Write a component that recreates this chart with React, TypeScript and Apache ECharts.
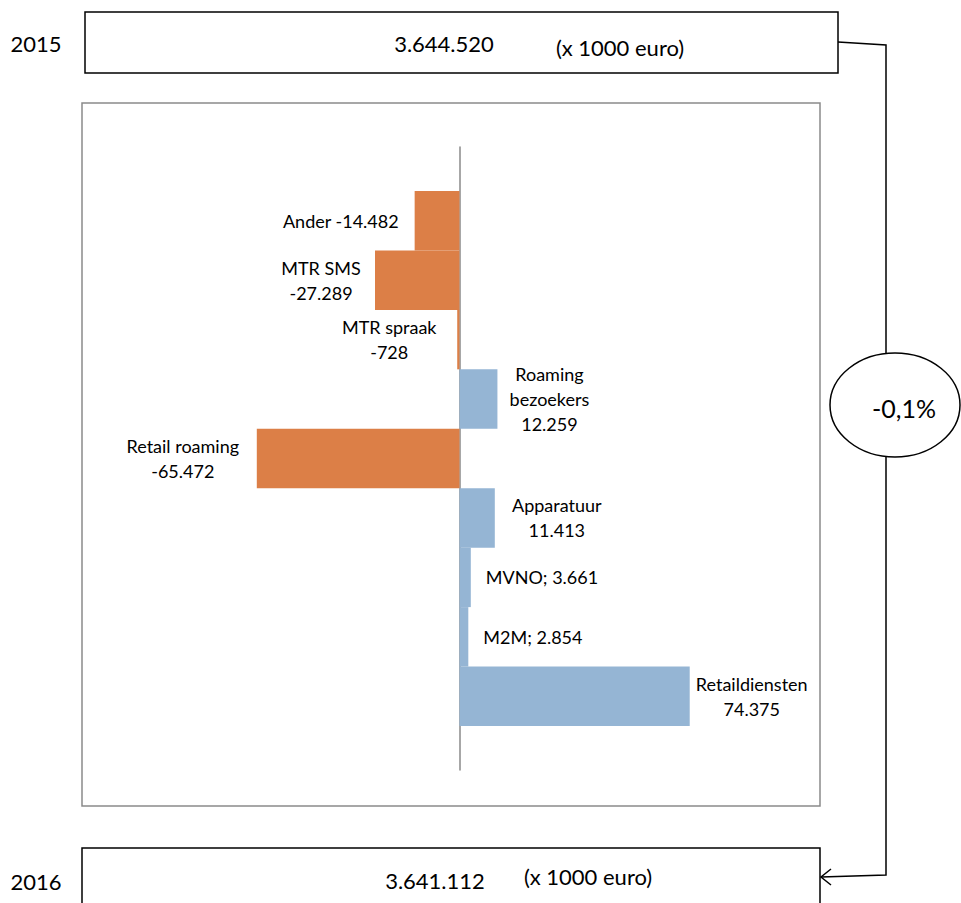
import React, { useEffect, useRef } from "react";
import * as echarts from "echarts";

const categories = [
  "Ander",
  "MTR SMS",
  "MTR spraak",
  "Roaming bezoekers",
  "Retail roaming",
  "Apparatuur",
  "MVNO",
  "M2M",
  "Retaildiensten",
];
const values = [-14482, -27289, -728, 12259, -65472, 11413, 3661, 2854, 74375];
// how each label joins name and value
const labelNames = [
  "Ander",
  "MTR SMS",
  "MTR spraak",
  "Roaming\nbezoekers",
  "Retail roaming",
  "Apparatuur",
  "MVNO",
  "M2M",
  "Retaildiensten",
];
const labelJoins = [" ", "\n", "\n", "\n", "\n", "\n", "; ", "; ", "\n"];
const years = ["2015", "2016"];
const totals = [3644520, 3641112];
const unitText = "(x 1000 euro)";
const changeText = "-0,1%";

const FONT = "Lato, 'Open Sans', sans-serif";
const ORANGE = "#DC7F47";
const BLUE = "#95B5D4";

// label placement styles per bar
const labelStyles = [
  { position: "left", align: "right", distance: 16 },
  { position: "left", align: "center", distance: 54 },
  { position: "left", align: "center", distance: 68 },
  { position: "right", align: "center", distance: 52 },
  { position: "left", align: "center", distance: 74 },
  { position: "right", align: "center", distance: 62 },
  { position: "right", align: "left", distance: 15 },
  { position: "right", align: "left", distance: 15 },
  { position: "right", align: "center", distance: 62 },
];

function fmt(v: number): string {
  const s = Math.abs(v).toString();
  let out = "";
  for (let i = 0; i < s.length; i++) {
    if (i > 0 && (s.length - i) % 3 === 0) out += ".";
    out += s[i];
  }
  return (v < 0 ? "-" : "") + out;
}

export default function App() {
  const ref = useRef<HTMLDivElement>(null);
  useEffect(() => {
    if (!ref.current) return;
    const chart = echarts.init(ref.current, undefined, { renderer: "svg" });
    const gridPos = { left: 88, right: 161 };
    const xMin = -120000;
    const xMax = 110000;
    const data = values.map((v, i) => ({
      value: v,
      itemStyle: { color: v < 0 ? ORANGE : BLUE },
      label: {
        show: true,
        position: labelStyles[i].position,
        align: labelStyles[i].align,
        distance: labelStyles[i].distance,
        formatter: labelNames[i] + labelJoins[i] + fmt(v),
      },
    }));
    const textStyle = (size: number) => ({
      fontFamily: FONT,
      fontSize: size,
      fill: "#000",
    });
    chart.setOption({
      animation: false,
      grid: [
        { ...gridPos, top: 191, bottom: 177 },
        { ...gridPos, top: 147, bottom: 133 },
      ],
      xAxis: [
        { type: "value", gridIndex: 0, min: xMin, max: xMax, show: false },
        { type: "value", gridIndex: 1, min: xMin, max: xMax, show: false },
      ],
      yAxis: [
        {
          type: "category",
          gridIndex: 0,
          data: categories,
          inverse: true,
          show: false,
        },
        {
          type: "value",
          gridIndex: 1,
          min: 0,
          max: 1,
          axisLine: { show: true, onZero: true, lineStyle: { color: "#8a8a8a", width: 1.5 } },
          axisTick: { show: false },
          axisLabel: { show: false },
          splitLine: { show: false },
        },
      ],
      series: [
        {
          type: "bar",
          xAxisIndex: 0,
          yAxisIndex: 0,
          data,
          barWidth: "100%",
          barCategoryGap: "0%",
          label: {
            color: "#000",
            fontFamily: FONT,
            fontSize: 18,
            lineHeight: 25,
          },
        },
      ],
      graphic: [
        // chart frame
        {
          type: "rect",
          shape: { x: 82, y: 103, width: 738, height: 703 },
          style: { fill: "none", stroke: "#8a8a8a", lineWidth: 1.5 },
          z: -1,
        },
        // top box
        {
          type: "rect",
          shape: { x: 85, y: 12, width: 753, height: 61 },
          style: { fill: "#fff", stroke: "#000", lineWidth: 1.5 },
        },
        {
          type: "text",
          x: 36,
          y: 43,
          style: { ...textStyle(22), text: years[0], align: "center", verticalAlign: "middle" },
        },
        {
          type: "text",
          x: 444,
          y: 43,
          style: { ...textStyle(22), text: fmt(totals[0]), align: "center", verticalAlign: "middle" },
        },
        {
          type: "text",
          x: 620,
          y: 47,
          style: { ...textStyle(22), text: unitText, align: "center", verticalAlign: "middle" },
        },
        // bottom box
        {
          type: "rect",
          shape: { x: 82, y: 848, width: 738, height: 70 },
          style: { fill: "#fff", stroke: "#000", lineWidth: 1.5 },
        },
        {
          type: "text",
          x: 36,
          y: 881,
          style: { ...textStyle(22), text: years[1], align: "center", verticalAlign: "middle" },
        },
        {
          type: "text",
          x: 435,
          y: 880,
          style: { ...textStyle(22), text: fmt(totals[1]), align: "center", verticalAlign: "middle" },
        },
        {
          type: "text",
          x: 588,
          y: 876,
          style: { ...textStyle(22), text: unitText, align: "center", verticalAlign: "middle" },
        },
        // connector
        {
          type: "polyline",
          shape: { points: [[838, 42], [886, 45], [886, 875], [821, 877]] },
          style: { fill: "none", stroke: "#000", lineWidth: 1.5 },
        },
        {
          type: "polyline",
          shape: { points: [[831, 869], [821, 877], [831, 885]] },
          style: { fill: "none", stroke: "#000", lineWidth: 1.5 },
        },
        {
          type: "ellipse",
          shape: { cx: 895, cy: 405, rx: 65, ry: 52 },
          style: { fill: "#fff", stroke: "#000", lineWidth: 1.5 },
        },
        {
          type: "text",
          x: 904,
          y: 408,
          style: { ...textStyle(25), text: changeText, align: "center", verticalAlign: "middle" },
        },
      ],
    });
    return () => chart.dispose();
  }, []);
  return (
    <div
      ref={ref}
      style={{ position: "absolute", left: 0, top: 0, width: 961, height: 903, background: "#fff" }}
    />
  );
}
